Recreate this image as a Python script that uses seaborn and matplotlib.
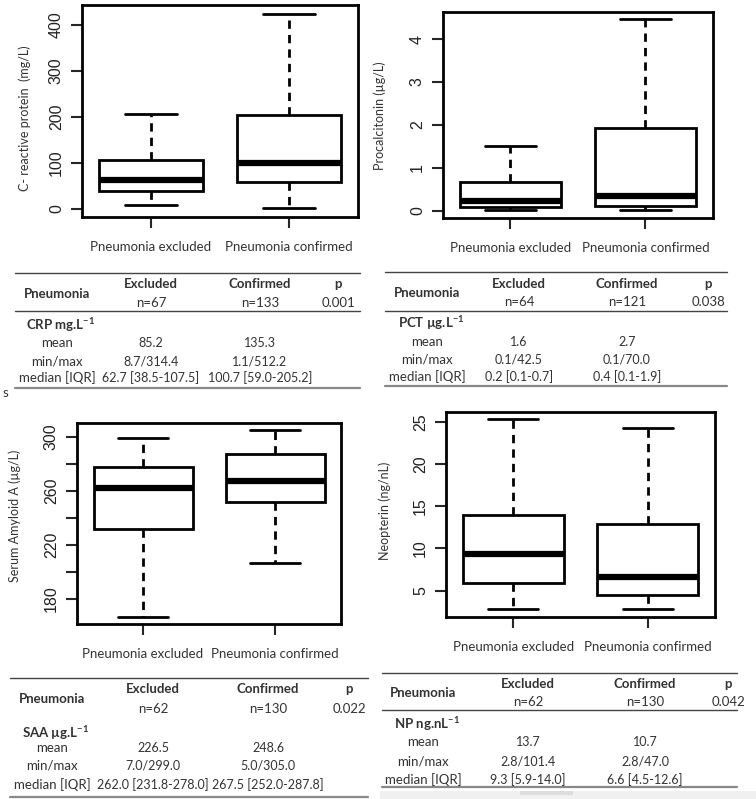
import numpy as np
import pandas as pd
import matplotlib
matplotlib.use("Agg")
import matplotlib.pyplot as plt
import seaborn as sns

# groups on the x axis
groups = ["Pneumonia excluded", "Pneumonia confirmed"]

# box summaries: [whisker low, q1, median, q3, whisker high]
crp_excl = [8.7, 38.5, 62.7, 107.5, 207.0]
crp_conf = [1.1, 59.0, 100.7, 205.2, 425.0]
pct_excl = [0.02, 0.10, 0.23, 0.68, 1.51]
pct_conf = [0.02, 0.12, 0.35, 1.94, 4.46]
saa_excl = [167.0, 231.8, 262.0, 278.0, 299.0]
saa_conf = [207.0, 252.0, 267.5, 287.8, 305.0]
np_excl = [2.8, 5.9, 9.3, 14.0, 25.3]
np_conf = [2.8, 4.5, 6.6, 12.9, 24.3]

# table contents
tab_header = ["Pneumonia", "Excluded", "Confirmed", "p"]
tab_rows = ["mean", "min/max", "median [IQR]"]
crp_tab = {"title": r"CRP mg.L$^{\mathregular{-1}}$", "n": ["n=67", "n=133"], "p": "0.001",
           "excl": ["85.2", "8.7/314.4", "62.7 [38.5-107.5]"],
           "conf": ["135.3", "1.1/512.2", "100.7 [59.0-205.2]"]}
pct_tab = {"title": r"PCT µg.L$^{\mathregular{-1}}$", "n": ["n=64", "n=121"], "p": "0.038",
           "excl": ["1.6", "0.1/42.5", "0.2 [0.1-0.7]"],
           "conf": ["2.7", "0.1/70.0", "0.4 [0.1-1.9]"]}
saa_tab = {"title": r"SAA µg.L$^{\mathregular{-1}}$", "n": ["n=62", "n=130"], "p": "0.022",
           "excl": ["226.5", "7.0/299.0", "262.0 [231.8-278.0]"],
           "conf": ["248.6", "5.0/305.0", "267.5 [252.0-287.8]"]}
np_tab = {"title": r"NP ng.nL$^{\mathregular{-1}}$", "n": ["n=62", "n=130"], "p": "0.042",
          "excl": ["13.7", "2.8/101.4", "9.3 [5.9-14.0]"],
          "conf": ["10.7", "2.8/47.0", "6.6 [4.5-12.6]"]}

sns.set_theme(style="ticks")
plt.rcParams["font.family"] = ["Lato", "DejaVu Sans"]
plt.rcParams["mathtext.fontset"] = "custom"
plt.rcParams["mathtext.rm"] = "Lato"
plt.rcParams["mathtext.bf"] = "Lato:bold"

W, H = 756, 799
fig = plt.figure(figsize=(W / 100, H / 100), dpi=100)
fig.patch.set_facecolor("white")

# overlay in pixel coordinates for the tables
bg = fig.add_axes([0, 0, 1, 1])
bg.set_xlim(0, W)
bg.set_ylim(H, 0)
bg.axis("off")


def px_axes(l, t, r, b):
    return fig.add_axes([l / W, 1 - b / H, (r - l) / W, (b - t) / H])


TXT = "#333333"


def box_panel(rect, excl, conf, ylim, yticks, yticklabels, ylabel, lab_xy):
    ax = px_axes(*rect)
    df = pd.DataFrame({"group": np.repeat(groups, 5), "value": excl + conf})
    sns.boxplot(data=df, x="group", y="value", ax=ax, whis=(0, 100), width=0.75,
                color="white", linecolor="black", linewidth=2, fliersize=0,
                whiskerprops=dict(linestyle=(0, (3, 2.2))),
                medianprops=dict(linewidth=4.5))
    ax.set_xlim(-0.5, 1.5)
    ax.set_ylim(*ylim)
    ax.set_yticks(yticks)
    ax.set_yticklabels(yticklabels, rotation=90, va="center", fontfamily="Liberation Sans",
                       fontsize=11.5, color="#222222")
    ax.tick_params(axis="y", length=8, width=1.5, pad=5)
    ax.tick_params(axis="x", length=8, width=1.5, pad=9, labelsize=9.5, labelcolor=TXT)
    ax.set_xlabel("")
    ax.set_ylabel(ylabel, fontsize=9, color=TXT)
    ax.yaxis.set_label_coords(*lab_xy)
    for s in ax.spines.values():
        s.set_linewidth(2)
        s.set_color("black")
    return ax


box_panel((82, 5, 358, 217), crp_excl, crp_conf, (-17.4, 443.5), [0, 100, 200, 300, 400],
          ["0", "100", "200", "300", "400"], "C- reactive protein  (mg/L)", (-0.185, 0.467))
box_panel((443, 12, 713, 218), pct_excl, pct_conf, (-0.163, 4.63), [0, 1, 2, 3, 4],
          ["0", "1", "2", "3", "4"], "Procalcitonin (µg/L)", (-0.211, 0.495))
box_panel((77, 423, 341, 624), saa_excl, saa_conf, (161.5, 310.4), list(range(180, 301, 20)),
          ["180", "", "220", "", "260", "", "300"], "Serum Amyloid A (µg/L)", (-0.212, 0.537))
box_panel((446, 412, 715, 617), np_excl, np_conf, (1.89, 26.15), [5, 10, 15, 20, 25],
          ["5", "10", "15", "20", "25"], "Neopterin (ng/nL)", (-0.205, 0.52))


def table(tab, x0, x1, cols, ys, mid_line=True, bottom_y=None):
    # cols: x centres of [label, excluded, confirmed, p, title-left]; ys: rows
    y_top, y_head, y_n, y_mid, y_title, y_rows = ys
    fs, fv = 9.5, 9.0
    bg.plot([x0, x1], [y_top, y_top], color="#444444", lw=1.0)
    if mid_line:
        bg.plot([x0, x1], [y_mid, y_mid], color="#444444", lw=1.0)
    bg.plot([x0, x1], [bottom_y, bottom_y], color="#888888", lw=1.6)
    bg.text(cols[0], (y_head + y_n) / 2, tab_header[0], ha="center", va="center",
            fontsize=fs, fontweight="bold", color=TXT)
    for i in range(1, 4):
        bg.text(cols[i], y_head, tab_header[i], ha="center", va="center",
                fontsize=fs, fontweight="bold", color=TXT)
    bg.text(cols[1], y_n, tab["n"][0], ha="center", va="center", fontsize=fs, color=TXT)
    bg.text(cols[2], y_n, tab["n"][1], ha="center", va="center", fontsize=fs, color=TXT)
    bg.text(cols[3], y_n, tab["p"], ha="center", va="center", fontsize=fs, color=TXT)
    bg.text(cols[4], y_title, tab["title"], ha="left", va="center", fontsize=fs,
            fontweight="bold", color=TXT)
    for j, name in enumerate(tab_rows):
        bg.text(cols[0], y_rows[j], name, ha="center", va="center", fontsize=fs, color=TXT)
        bg.text(cols[1], y_rows[j], tab["excl"][j], ha="center", va="center", fontsize=fv, color=TXT)
        bg.text(cols[2], y_rows[j], tab["conf"][j], ha="center", va="center", fontsize=fv, color=TXT)


table(crp_tab, 15, 360, [57, 151, 260, 338, 26], (273, 284, 303, 311, 325, [343, 362, 378]),
      bottom_y=388)
table(pct_tab, 385, 727, [427, 519, 627, 708, 398], (272, 284, 302, 311, 323, [342, 359, 377]),
      bottom_y=386)
table(saa_tab, 10, 368, [52, 153, 268, 349, 22], (678, 689, 709, 717, 733, [748, 766, 785]),
      mid_line=False, bottom_y=797)
table(np_tab, 382, 737, [423, 528, 645, 728, 394], (673, 684, 702, 710, 724, [742, 761, 780]),
      bottom_y=787)

# stray letter and light strip at the bottom right of the source image
bg.text(5, 393, "s", ha="center", va="center", fontsize=9.5, color=TXT)
bg.fill_between([380, 756], 791, 799, color="#f0f0f0", lw=0)
bg.fill_between([520, 573], 791, 795, color="#dddddd", lw=0)

fig.savefig("out.png", dpi=100)
